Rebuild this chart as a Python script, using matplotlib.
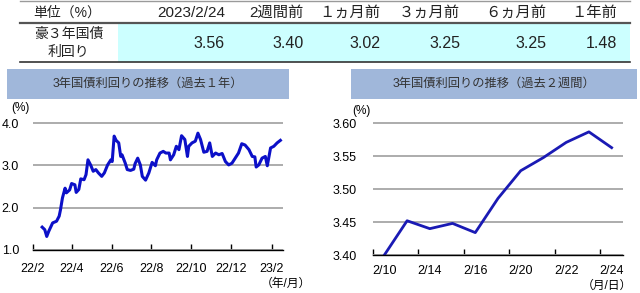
import matplotlib
matplotlib.use('Agg')
import matplotlib.pyplot as plt
import pandas as pd
from matplotlib.patches import Rectangle
from matplotlib.lines import Line2D

plt.rcParams['font.family'] = ['Liberation Sans', 'Noto Sans CJK JP']

# ---------------- data ----------------
table_header = ['2023/2/24', '2週間前', '１ヵ月前', '３ヵ月前', '６ヵ月前', '１年前']
table_values = [3.56, 3.40, 3.02, 3.25, 3.25, 1.48]

year_dates = ['2022-02-15', '2022-02-19', '2022-02-22', '2022-02-25', '2022-03-03', '2022-03-09',
              '2022-03-13', '2022-03-15', '2022-03-18', '2022-03-22', '2022-03-24', '2022-03-29',
              '2022-04-01', '2022-04-06', '2022-04-08', '2022-04-12', '2022-04-15', '2022-04-20',
              '2022-04-23', '2022-04-26', '2022-04-30', '2022-05-04', '2022-05-08', '2022-05-12',
              '2022-05-17', '2022-05-21', '2022-05-26', '2022-05-31', '2022-06-02', '2022-06-05',
              '2022-06-08', '2022-06-12', '2022-06-15', '2022-06-17', '2022-06-22', '2022-06-25',
              '2022-06-30', '2022-07-05', '2022-07-07', '2022-07-11', '2022-07-15', '2022-07-18',
              '2022-07-23', '2022-07-28', '2022-08-02', '2022-08-07', '2022-08-09', '2022-08-14',
              '2022-08-19', '2022-08-23', '2022-08-28', '2022-08-30', '2022-09-04', '2022-09-08',
              '2022-09-12', '2022-09-16', '2022-09-21', '2022-09-25', '2022-09-27', '2022-10-02',
              '2022-10-07', '2022-10-11', '2022-10-15', '2022-10-20', '2022-10-25', '2022-10-29',
              '2022-11-02', '2022-11-07', '2022-11-12', '2022-11-17', '2022-11-22', '2022-11-27',
              '2022-12-02', '2022-12-07', '2022-12-12', '2022-12-17', '2022-12-22', '2022-12-28',
              '2023-01-02', '2023-01-06', '2023-01-08', '2023-01-12', '2023-01-17', '2023-01-22',
              '2023-01-25', '2023-01-30', '2023-02-04', '2023-02-09', '2023-02-14']
year_values = [1.54, 1.48, 1.32, 1.44, 1.64, 1.68,
               1.80, 1.95, 2.23, 2.46, 2.35, 2.42,
               2.57, 2.54, 2.36, 2.43, 2.68, 2.66,
               2.78, 3.13, 3.01, 2.86, 2.90, 2.82,
               2.74, 2.82, 3.01, 3.13, 3.09, 3.69,
               3.59, 3.53, 3.21, 3.25, 3.05, 2.90,
               2.88, 2.91, 3.04, 3.17, 3.01, 2.74,
               2.65, 2.82, 3.07, 2.99, 3.13, 3.29,
               3.33, 3.29, 3.29, 3.13, 3.25, 3.45,
               3.37, 3.70, 3.61, 3.21, 3.45, 3.53,
               3.57, 3.76, 3.61, 3.31, 3.33, 3.53,
               3.21, 3.29, 3.25, 3.28, 3.09, 3.01,
               3.05, 3.17, 3.29, 3.51, 3.48, 3.37,
               3.21, 3.20, 2.96, 3.01, 3.17, 3.21,
               2.99, 3.41, 3.45, 3.53, 3.59]
year_ticks = ['2022-02-01', '2022-04-01', '2022-06-01', '2022-08-01', '2022-10-01', '2022-12-01', '2023-02-01']
year_tick_labels = ['22/2', '22/4', '22/6', '22/8', '22/10', '22/12', '23/2']

week_days = ['2/10', '2/13', '2/14', '2/15', '2/16', '2/17', '2/20', '2/21', '2/22', '2/23', '2/24']
week_values = [3.400, 3.452, 3.440, 3.448, 3.434, 3.486, 3.528, 3.548, 3.571, 3.587, 3.563]

# ---------------- figure ----------------
W, H = 640, 293
fig = plt.figure(figsize=(W / 100, H / 100), dpi=100)


def fx(px):
    return px / W


def fy(py):
    return 1 - py / H


# ---------------- table ----------------
fig.patches.append(Rectangle((fx(118), fy(62)), fx(630) - fx(118), fy(24) - fy(62),
                             transform=fig.transFigure, facecolor='#ccffff', edgecolor='none', zorder=0))
fig.lines.append(Line2D([fx(20), fx(630)], [fy(1), fy(1)], transform=fig.transFigure, color='#9a9a9a', lw=1.0))
fig.lines.append(Line2D([fx(20), fx(630)], [fy(23), fy(23)], transform=fig.transFigure, color='#555555', lw=1.6))
fig.lines.append(Line2D([fx(20), fx(630)], [fy(62), fy(62)], transform=fig.transFigure, color='#333333', lw=1.2))

fig.text(fx(67), fy(13), '単位（%）', ha='center', va='center', fontsize=10, color='#222222')
fig.text(fx(69), fy(34), '豪３年国債', ha='center', va='center', fontsize=10, color='#222222')
fig.text(fx(68), fy(52), '利回り', ha='center', va='center', fontsize=10, color='#222222')
col_right = [225, 304, 380, 460, 546, 617]
for xr, h, v in zip(col_right, table_header, table_values):
    fig.text(fx(xr), fy(13), h, ha='right', va='center', fontsize=11, color='#222222')
    fig.text(fx(xr), fy(43), f'{v:.2f}', ha='right', va='center', fontsize=11.5, color='#222222')

# ---------------- banners ----------------
banner_color = '#a0b7da'
fig.patches.append(Rectangle((fx(7), fy(99)), fx(289) - fx(7), fy(69) - fy(99),
                             transform=fig.transFigure, facecolor=banner_color, edgecolor='none'))
fig.patches.append(Rectangle((fx(351), fy(99)), fx(637) - fx(351), fy(69) - fy(99),
                             transform=fig.transFigure, facecolor=banner_color, edgecolor='none'))
fig.text(fx(148), fy(84), '3年国債利回りの推移（過去１年）', ha='center', va='center', fontsize=8.8, color='#333333')
fig.text(fx(494), fy(84), '3年国債利回りの推移（過去２週間）', ha='center', va='center', fontsize=8.8, color='#333333')

grid_color = '#a6a6a6'

# ---------------- left chart ----------------
top_px = 123 - 0.05 * (127 / 3.0)
ax1 = fig.add_axes([fx(33), fy(250), fx(283) - fx(33), fy(top_px) - fy(250)])
dates = pd.to_datetime(year_dates)
ax1.plot(dates, year_values, color='#0c10c8', lw=2.2, solid_joinstyle='round')
ax1.set_ylim(1.0, 4.05)
ax1.set_yticks([1.0, 2.0, 3.0, 4.0])
ax1.set_yticklabels(['1.0', '2.0', '3.0', '4.0'])
ax1.set_xlim(pd.Timestamp('2022-02-01'), pd.Timestamp('2023-02-18'))
ax1.set_xticks(pd.to_datetime(year_ticks))
ax1.set_xticklabels(year_tick_labels)
ax1.grid(axis='y', color=grid_color, lw=1.3)
ax1.set_axisbelow(True)
for s in ['top', 'right', 'left']:
    ax1.spines[s].set_visible(False)
ax1.spines['bottom'].set_color('#000000')
ax1.spines['bottom'].set_linewidth(1.0)
ax1.tick_params(axis='x', direction='in', length=4, width=1, pad=9, labelsize=9, colors='#000000')
ax1.tick_params(axis='y', length=0, pad=10, labelsize=9)
ax1.patch.set_alpha(0)
fig.text(fx(20), fy(108), '(%)', ha='center', va='center', fontsize=8.5)
fig.text(fx(286), fy(284), '（年/月）', ha='center', va='center', fontsize=8.5)

# ---------------- right chart ----------------
pxu = (255 - 123.3) / 0.20
top_px2 = 123.3 - 0.005 * pxu
ax2 = fig.add_axes([fx(373), fy(255), fx(623) - fx(373), fy(top_px2) - fy(255)])
xs = list(range(len(week_days)))
ax2.plot(xs, week_values, color='#1a1ab4', lw=2.0, solid_joinstyle='round')
ax2.set_xlim(-0.5, len(week_days) - 0.5)
ax2.set_ylim(3.40, 3.605)
ax2.set_yticks([3.40, 3.45, 3.50, 3.55, 3.60])
ax2.set_yticklabels(['3.40', '3.45', '3.50', '3.55', '3.60'])
ax2.set_xticks([i - 0.5 for i in range(0, len(week_days), 2)])
ax2.set_xticklabels([''] * len(range(0, len(week_days), 2)))
ax2.set_xticks(xs[::2], minor=True)
ax2.set_xticklabels(week_days[::2], minor=True)
ax2.grid(axis='y', color=grid_color, lw=1.3)
ax2.set_axisbelow(True)
for s in ['top', 'right', 'left']:
    ax2.spines[s].set_visible(False)
ax2.spines['bottom'].set_color('#000000')
ax2.spines['bottom'].set_linewidth(1.0)
ax2.tick_params(axis='x', which='major', direction='in', length=4, width=1)
ax2.tick_params(axis='x', which='minor', length=0, pad=7, labelsize=9)
ax2.tick_params(axis='y', length=0, pad=12, labelsize=9)
ax2.patch.set_alpha(0)
fig.text(fx(361), fy(111), '(%)', ha='center', va='center', fontsize=8.5)
fig.text(fx(607), fy(286), '（月/日）', ha='center', va='center', fontsize=8.5)

fig.savefig('out.png', dpi=100, facecolor='white')
